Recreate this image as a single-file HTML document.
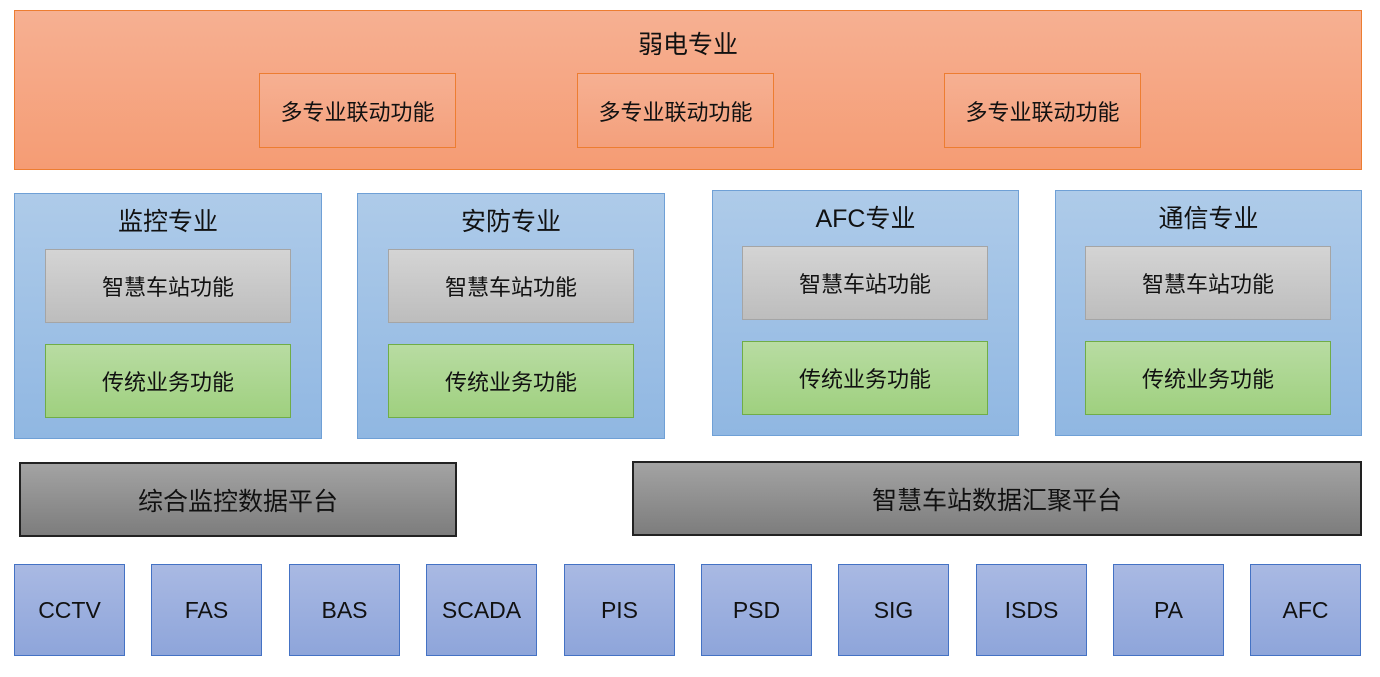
<!DOCTYPE html><html><head><meta charset="utf-8"><style>
body{margin:0;width:1380px;height:677px;background:#fff;position:relative;overflow:hidden;font-family:"Liberation Sans","Noto Sans CJK SC",sans-serif;color:#111}
.b{position:absolute;box-sizing:border-box;display:flex;align-items:center;justify-content:center}
.top{background:linear-gradient(#f6b092,#f59c74);border:1px solid #ed7d31}
.sub{background:linear-gradient(#f6b092,#f4a07c);border:1px solid #ed7d31;font-size:22px}
.blue{background:linear-gradient(#aecbe9,#90b7e2);border:1px solid #6fa0d6;align-items:flex-start;padding-top:8px;font-size:25px}
.gray{background:linear-gradient(#d4d4d4,#bdbdbd);border:1px solid #a5a5a5;font-size:22px}
.green{background:linear-gradient(#b8dca2,#9fd07f);border:1px solid #70ad47;font-size:22px}
.dark{background:linear-gradient(#a3a3a3,#7d7d7d);border:2px solid #222;font-size:25px}
.sys{background:linear-gradient(#a9b9e3,#8ea5da);border:1px solid #4472c4;font-size:23px;width:111px;height:92px;top:564px}
</style></head><body>
<div class="b top" style="left:14px;top:10px;width:1348px;height:160px;align-items:flex-start;padding-top:14px;font-size:25px">弱电专业</div>
<div class="b sub" style="left:259px;top:73px;width:197px;height:75px">多专业联动功能</div>
<div class="b sub" style="left:577px;top:73px;width:197px;height:75px">多专业联动功能</div>
<div class="b sub" style="left:944px;top:73px;width:197px;height:75px">多专业联动功能</div>

<div class="b blue" style="left:14px;top:193px;width:308px;height:246px">监控专业</div>
<div class="b blue" style="left:357px;top:193px;width:308px;height:246px">安防专业</div>
<div class="b blue" style="left:712px;top:190px;width:307px;height:246px">AFC专业</div>
<div class="b blue" style="left:1055px;top:190px;width:307px;height:246px">通信专业</div>

<div class="b gray" style="left:45px;top:249px;width:246px;height:74px">智慧车站功能</div>
<div class="b green" style="left:45px;top:344px;width:246px;height:74px">传统业务功能</div>
<div class="b gray" style="left:388px;top:249px;width:246px;height:74px">智慧车站功能</div>
<div class="b green" style="left:388px;top:344px;width:246px;height:74px">传统业务功能</div>
<div class="b gray" style="left:742px;top:246px;width:246px;height:74px">智慧车站功能</div>
<div class="b green" style="left:742px;top:341px;width:246px;height:74px">传统业务功能</div>
<div class="b gray" style="left:1085px;top:246px;width:246px;height:74px">智慧车站功能</div>
<div class="b green" style="left:1085px;top:341px;width:246px;height:74px">传统业务功能</div>

<div class="b dark" style="left:19px;top:462px;width:438px;height:75px">综合监控数据平台</div>
<div class="b dark" style="left:632px;top:461px;width:730px;height:75px">智慧车站数据汇聚平台</div>

<div class="b sys" style="left:14px">CCTV</div>
<div class="b sys" style="left:151px">FAS</div>
<div class="b sys" style="left:289px">BAS</div>
<div class="b sys" style="left:426px">SCADA</div>
<div class="b sys" style="left:564px">PIS</div>
<div class="b sys" style="left:701px">PSD</div>
<div class="b sys" style="left:838px">SIG</div>
<div class="b sys" style="left:976px">ISDS</div>
<div class="b sys" style="left:1113px">PA</div>
<div class="b sys" style="left:1250px">AFC</div>
</body></html>
